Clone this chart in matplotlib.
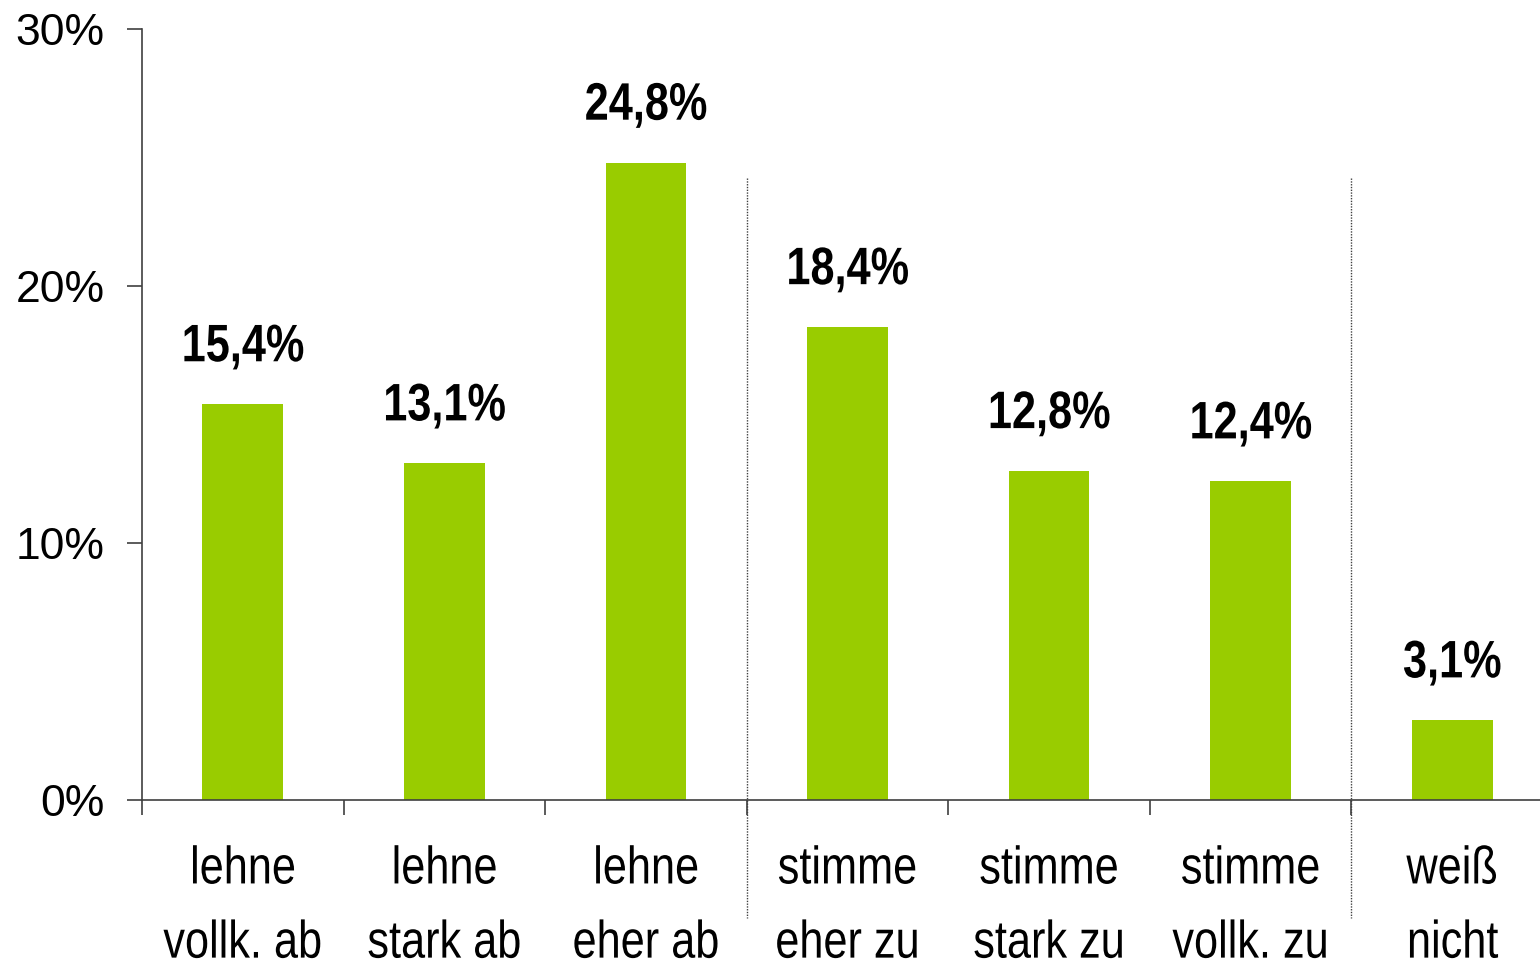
import matplotlib.pyplot as plt
import numpy as np
from matplotlib.patheffects import AbstractPathEffect
from matplotlib.transforms import Affine2D

# survey answers and shares in percent
categories = ["lehne\nvollk. ab", "lehne\nstark ab", "lehne\neher ab",
              "stimme\neher zu", "stimme\nstark zu", "stimme\nvollk. zu",
              "weiß\nnicht"]
values = [15.4, 13.1, 24.8, 18.4, 12.8, 12.4, 3.1]
value_labels = ["15,4%", "13,1%", "24,8%", "18,4%", "12,8%", "12,4%", "3,1%"]
y_ticks = [0, 10, 20, 30]
separators = [2.5, 5.5]

FONT = ["Liberation Sans", "DejaVu Sans"]
GREEN = "#99CC00"
AXIS = "#404040"


class Squeeze(AbstractPathEffect):
    """Narrow each text line around its own centre (no narrow font here)."""

    def __init__(self, sx=0.82):
        super().__init__()
        self.sx = sx

    def draw_path(self, renderer, gc, tpath, affine, rgbFace=None):
        ext = tpath.get_extents(affine)
        cx = (ext.x0 + ext.x1) / 2
        squeeze = Affine2D().translate(-cx, 0).scale(self.sx, 1).translate(cx, 0)
        renderer.draw_path(gc, tpath, affine + squeeze, rgbFace)


narrow = [Squeeze(0.82)]

fig = plt.figure(figsize=(15.4, 9.66), dpi=100)
ax = fig.add_axes([142 / 1540, 166 / 966, 1411 / 1540, 771 / 966])

x = np.arange(len(values))
ax.bar(x, values, width=0.40, color=GREEN, zorder=2)

for xi, v, lab in zip(x, values, value_labels):
    ax.annotate(lab, (xi, v), xytext=(0, 23), textcoords="offset points",
                ha="center", va="bottom", fontsize=38, fontweight="bold",
                family=FONT, path_effects=narrow)

for s in separators:
    ax.plot([s, s], [24.2, -4.6], color=AXIS, lw=1.0, ls=(0, (1, 1)),
            clip_on=False, zorder=3)

ax.set_xlim(-0.5, len(values) - 0.5)
ax.set_ylim(0, 30)

# y axis
ax.set_yticks(y_ticks)
ax.set_yticklabels([f"{t}%" for t in y_ticks], family=FONT, fontsize=32)
ax.tick_params(axis="y", direction="out", length=11, width=1.2, color=AXIS,
               pad=16)

# x axis: tick marks at category boundaries, labels at centres
ax.set_xticks(np.arange(len(values) + 1) - 0.5)
ax.set_xticklabels([])
ax.tick_params(axis="x", which="major", direction="out", length=11,
               width=1.2, color=AXIS)
ax.set_xticks(x, minor=True)
ax.set_xticklabels(categories, minor=True, family=FONT, fontsize=38,
                   linespacing=1.62)
for t in ax.get_xticklabels(minor=True):
    t.set_path_effects(narrow)
ax.tick_params(axis="x", which="minor", length=0, pad=32)

for side in ["top", "right"]:
    ax.spines[side].set_visible(False)
for side in ["left", "bottom"]:
    ax.spines[side].set_color(AXIS)
    ax.spines[side].set_linewidth(1.2)
ax.spines["left"].set_bounds(0, 30)

fig.savefig("out.png", dpi=100)
